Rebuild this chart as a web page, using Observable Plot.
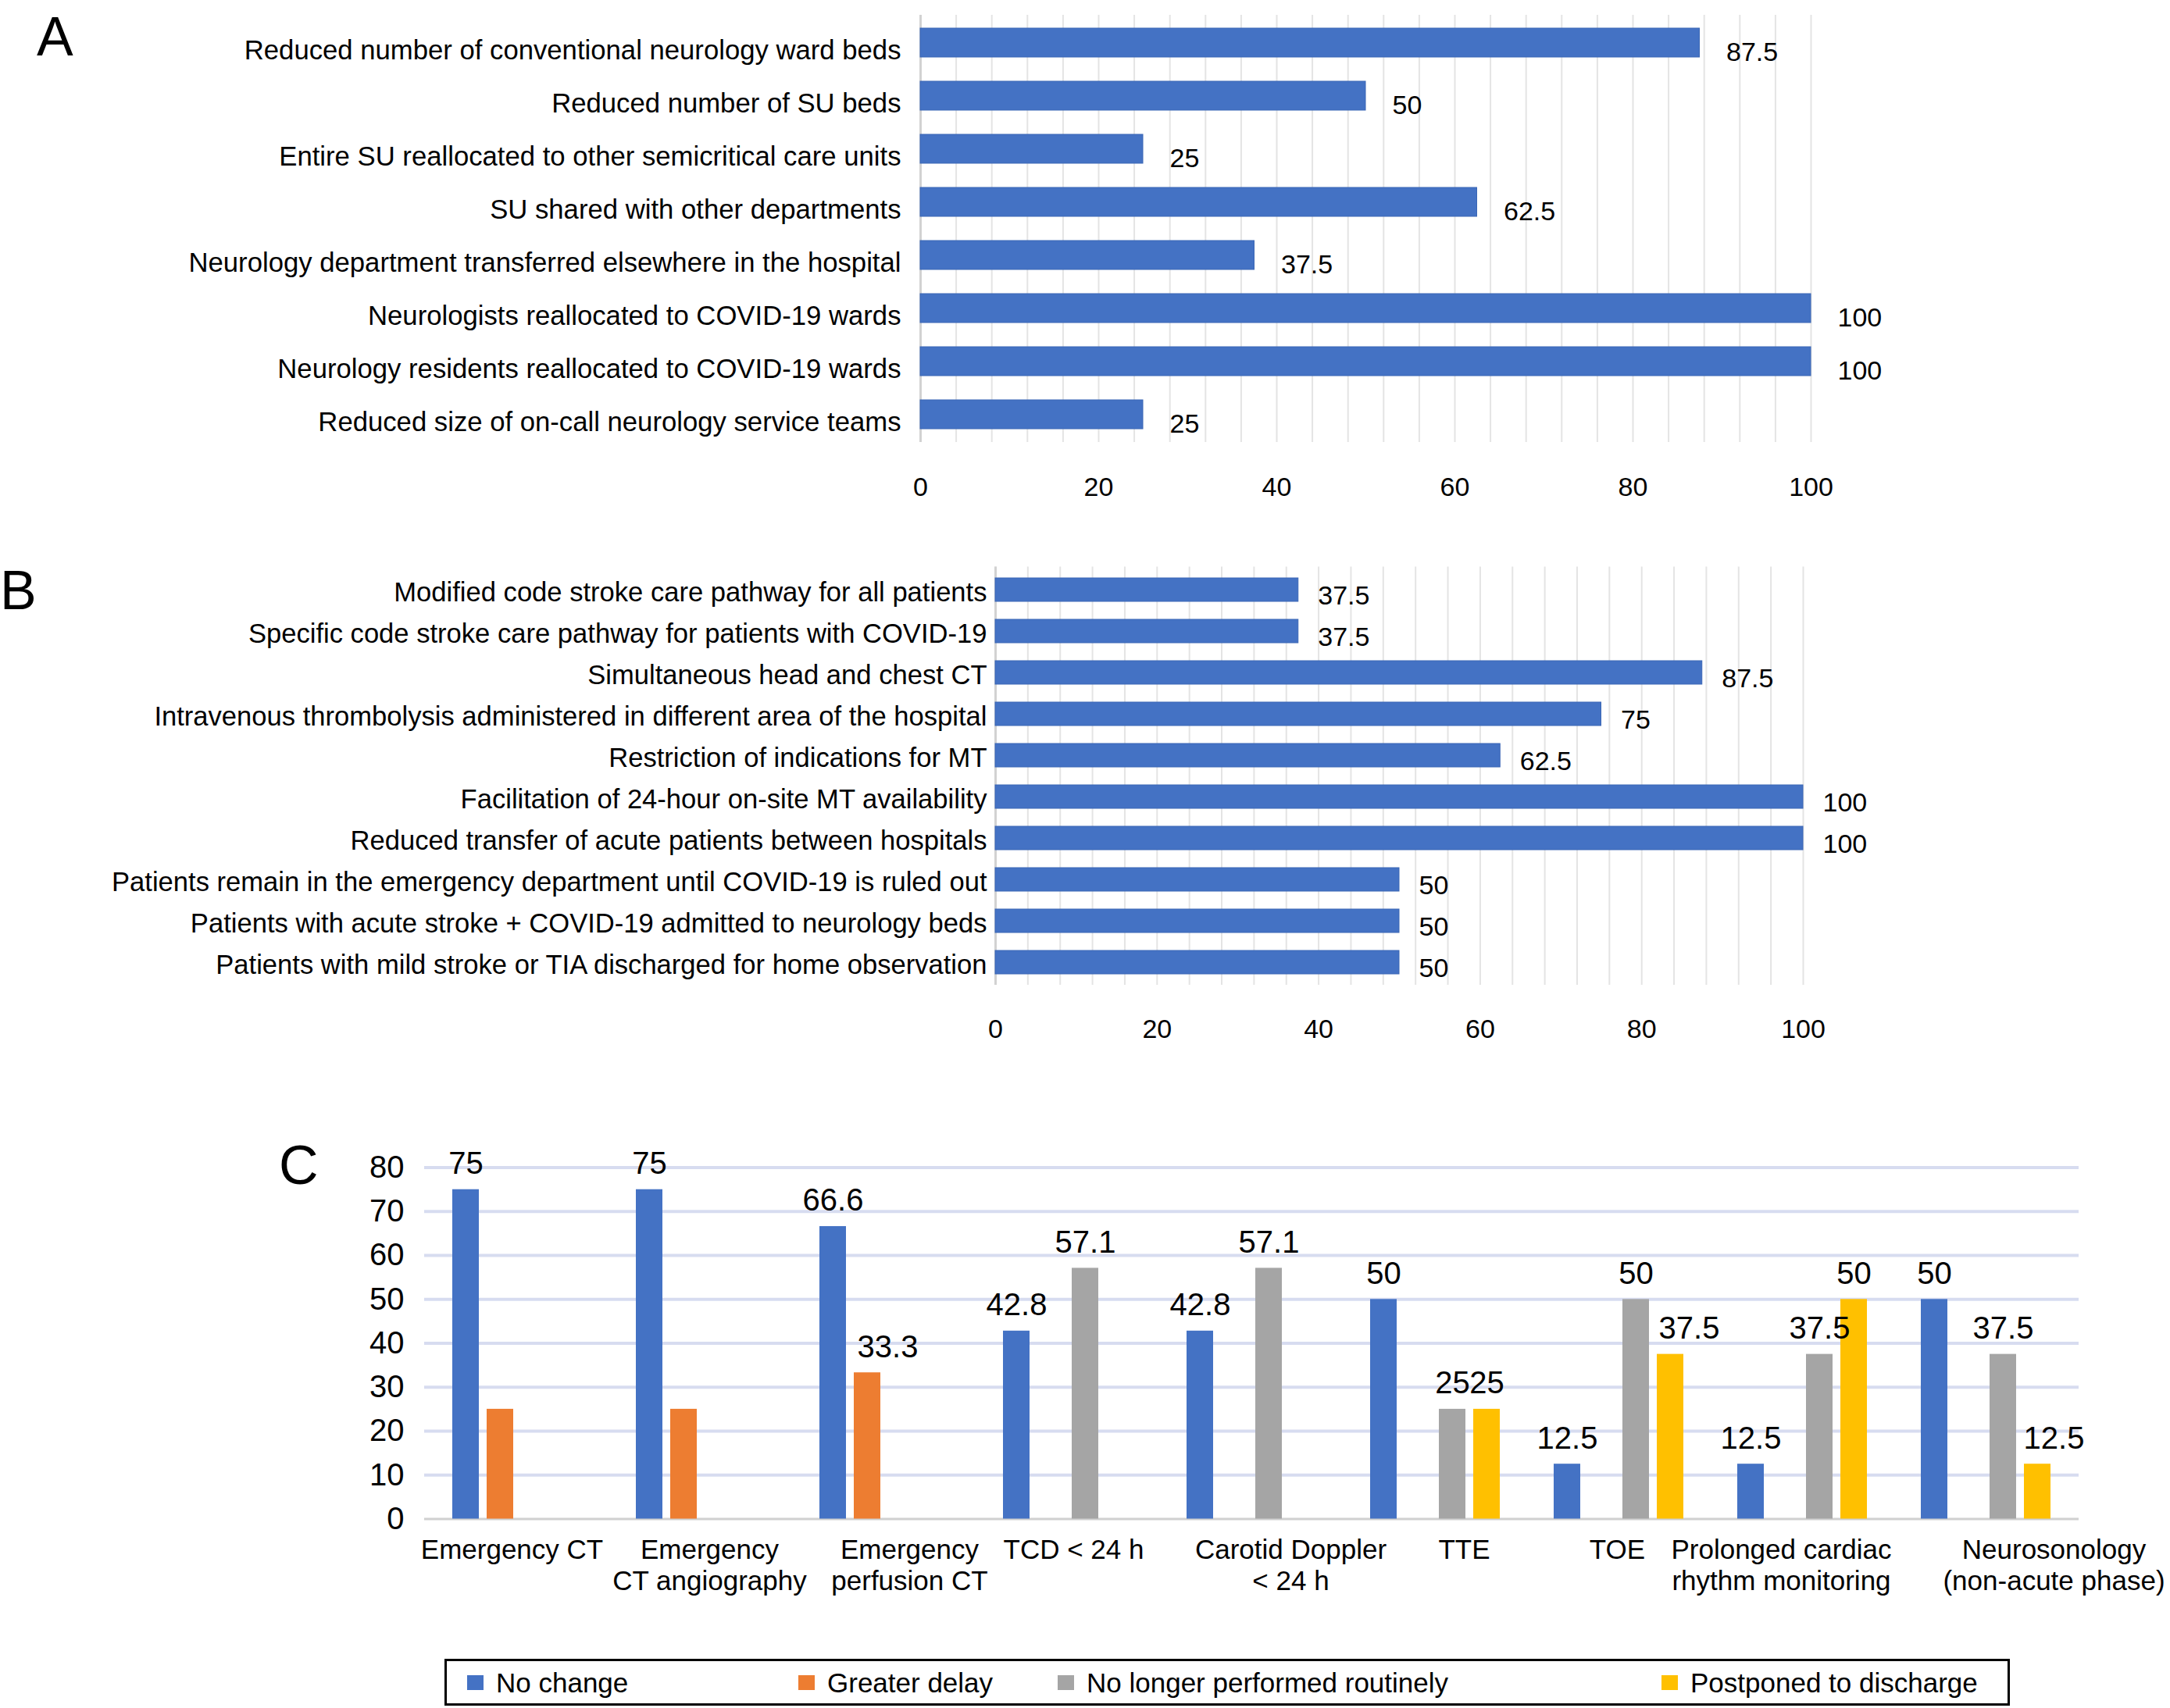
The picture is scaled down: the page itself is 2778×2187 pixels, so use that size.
<!DOCTYPE html>
<html>
<head>
<meta charset="utf-8">
<script src="https://cdn.jsdelivr.net/npm/d3@7"></script>
<script src="https://cdn.jsdelivr.net/npm/@observablehq/plot@0.6"></script>
<style>
  html, body { margin: 0; padding: 0; background: #fff; }
  body { width: 2778px; height: 2187px; position: relative; overflow: hidden; font-family: "Liberation Sans", Arial, sans-serif; }
  .layer { position: absolute; left: 0; }
  .letter { position: absolute; line-height: 1; color: #000; font-family: "Liberation Sans", Arial, sans-serif; }
  #legend { position: absolute; left: 569px; top: 2124px; width: 2004px; height: 60px; box-sizing: border-box; border: 3px solid #000; background: #fff; }
  .sw { position: absolute; width: 21px; height: 19px; top: 18px; }
  .lt { position: absolute; top: 10px; font-size: 35px; line-height: 35px; color: #000; white-space: nowrap; }
</style>
</head>
<body>
<script>
// ---------- Panel A data ----------
const aLabels = [
  "Reduced number of conventional neurology ward beds",
  "Reduced number of SU beds",
  "Entire SU reallocated to other semicritical care units",
  "SU shared with other departments",
  "Neurology department transferred elsewhere in the hospital",
  "Neurologists reallocated to COVID-19 wards",
  "Neurology residents reallocated to COVID-19 wards",
  "Reduced size of on-call neurology service teams"
];
const aValues = [87.5, 50, 25, 62.5, 37.5, 100, 100, 25];

// ---------- Panel B data ----------
const bLabels = [
  "Modified code stroke care pathway for all patients",
  "Specific code stroke care pathway for patients with COVID-19",
  "Simultaneous head and chest CT",
  "Intravenous thrombolysis administered in different area of the hospital",
  "Restriction of indications for MT",
  "Facilitation of 24-hour on-site MT availability",
  "Reduced transfer of acute patients between hospitals",
  "Patients remain in the emergency department until COVID-19 is ruled out",
  "Patients with acute stroke + COVID-19 admitted to neurology beds",
  "Patients with mild stroke or TIA discharged for home observation"
];
const bValues = [37.5, 37.5, 87.5, 75, 62.5, 100, 100, 50, 50, 50];

const abTicks = [0, 20, 40, 60, 80, 100];
const abGrid = [0, 4, 8, 12, 16, 20, 24, 28, 32, 36, 40, 44, 48, 52, 56, 60, 64, 68, 72, 76, 80, 84, 88, 92, 96, 100];

// ---------- Panel C data ----------
const cCategories = [
  "Emergency CT",
  "Emergency\nCT angiography",
  "Emergency\nperfusion CT",
  "TCD < 24 h",
  "Carotid Doppler\n< 24 h",
  "TTE",
  "TOE",
  "Prolonged cardiac\nrhythm monitoring",
  "Neurosonology\n(non-acute phase)"
];
const cSeries = ["No change", "Greater delay", "No longer performed routinely", "Postponed to discharge"];
const cColors = ["#4472C4", "#ED7D31", "#A5A5A5", "#FFC000"];
const cNoChange     = [75, 75, 66.6, 42.8, 42.8, 50, 12.5, 12.5, 50];
const cGreaterDelay = [25, 25, 33.3, null, null, null, null, null, null];
const cNoLonger     = [null, null, null, 57.1, 57.1, 25, 50, 37.5, 37.5];
const cPostponed    = [null, null, null, null, null, 25, 37.5, 50, 12.5];
// value labels that the original figure does not print
const cGreaterDelayLabelShown = [false, false, true, false, false, false, false, false, false];
const cTicks = [0, 10, 20, 30, 40, 50, 60, 70, 80];

// ---------- style constants ----------
const FONT = "Liberation Sans, Arial, sans-serif";
const BLUE = "#4472C4";
const cLabelShift = [-7, 11, 32, 7, 50, 37, -2, -27, 87]; // horizontal nudge of category labels (px)
// horizontal nudge of a few value labels (px), keyed by category index and series index
const cValueNudge = {"2-1": 26, "6-3": 24, "8-3": 21};

function place(node, top) {
  node.classList.add("layer");
  node.style.top = top + "px";
  document.body.appendChild(node);
}

// ---------- Panel A ----------
const aData = aLabels.map((label, i) => ({label, value: aValues[i]}));
const plotA = Plot.plot({
  width: 2778, height: 680,
  marginLeft: 1178, marginRight: 460, marginTop: 19, marginBottom: 114,
  style: {fontFamily: FONT, fontSize: "34.7px", background: "transparent", color: "#000", overflow: "visible"},
  x: {domain: [0, 100]},
  y: {domain: aLabels, paddingInner: 0.46, paddingOuter: 0.23},
  marks: [
    Plot.ruleX(abGrid, {stroke: "#e4e4e4", strokeWidth: 2}),
    Plot.ruleX([0], {stroke: "#d2d2d2", strokeWidth: 3}),
    Plot.barX(aData, {x: "value", y: "label", fill: BLUE, stroke: "#3a66b5", strokeWidth: 1}),
    Plot.text(aData, {x: "value", y: "label", text: d => String(d.value), textAnchor: "start", dx: 34, dy: 12, fontSize: 34, fill: "#000"}),
    Plot.axisY({tickSize: 0, tickPadding: 25, fontSize: 34.7, dy: 10, label: null}),
    Plot.axisX({ticks: abTicks, tickSize: 0, tickPadding: 44, fontSize: 34, label: null})
  ]
});
place(plotA, 0);

// ---------- Panel B ----------
const bData = bLabels.map((label, i) => ({label, value: bValues[i]}));
const plotB = Plot.plot({
  width: 2778, height: 700,
  marginLeft: 1274, marginRight: 470, marginTop: 45.5, marginBottom: 119,
  style: {fontFamily: FONT, fontSize: "34.6px", background: "transparent", color: "#000", overflow: "visible"},
  x: {domain: [0, 100]},
  y: {domain: bLabels, paddingInner: 0.44, paddingOuter: 0.22},
  marks: [
    Plot.ruleX(abGrid, {stroke: "#e4e4e4", strokeWidth: 2}),
    Plot.ruleX([0], {stroke: "#d2d2d2", strokeWidth: 3}),
    Plot.barX(bData, {x: "value", y: "label", fill: BLUE, stroke: "#3a66b5", strokeWidth: 1}),
    Plot.text(bData, {x: "value", y: "label", text: d => String(d.value), textAnchor: "start", dx: 25, dy: 8, fontSize: 34, fill: "#000"}),
    Plot.axisY({tickSize: 0, tickPadding: 11, fontSize: 34.6, dy: 3, label: null}),
    Plot.axisX({ticks: abTicks, tickSize: 0, tickPadding: 43, fontSize: 34, label: null})
  ]
});
place(plotB, 680);

// ---------- Panel C ----------
const cBySeries = [cNoChange, cGreaterDelay, cNoLonger, cPostponed];
const cRows = [];
cCategories.forEach((cat, i) => {
  cSeries.forEach((series, j) => {
    const v = cBySeries[j][i];
    if (v != null) {
      const shown = j === 1 ? cGreaterDelayLabelShown[i] : true;
      cRows.push({cat, series, value: v, shown, nudge: cValueNudge[i + "-" + j] || 0});
    }
  });
});

const cDims = {width: 2778, height: 700, marginLeft: 543, marginRight: 117, marginTop: 114.6, marginBottom: 135.5};

const plotCGrid = Plot.plot({
  ...cDims,
  style: {fontFamily: FONT, fontSize: "40px", background: "transparent", color: "#000", overflow: "visible"},
  y: {domain: [0, 80]},
  marks: [
    Plot.ruleY(cTicks.filter(t => t > 0), {stroke: "#d7dcf0", strokeWidth: 4}),
    Plot.ruleY([0], {stroke: "#d0d0d0", strokeWidth: 3}),
    Plot.axisY({ticks: cTicks, tickSize: 0, tickPadding: 26, fontSize: 40, label: null})
  ]
});
place(plotCGrid, 1380);

const nudges = Array.from(new Set(cRows.map(d => d.nudge)));
const plotC = Plot.plot({
  ...cDims,
  style: {fontFamily: FONT, fontSize: "35px", background: "transparent", color: "#000", overflow: "visible"},
  y: {domain: [0, 80], axis: null},
  fx: {domain: cCategories, paddingInner: 0.25, paddingOuter: 0.125},
  x: {domain: cSeries, padding: 0, axis: null},
  color: {domain: cSeries, range: cColors},
  marks: [
    Plot.barY(cRows, {fx: "cat", x: "series", y: "value", fill: "series", insetLeft: 5, insetRight: 5}),
    ...nudges.map(n => Plot.text(cRows.filter(d => d.shown && d.nudge === n), {fx: "cat", x: "series", y: "value", text: d => String(d.value), lineAnchor: "bottom", dy: -20, dx: n, fontSize: 40, fill: "#000"})),
    ...cCategories.map((cat, i) => Plot.axisFx({anchor: "bottom", ticks: [cat], tickSize: 0, tickPadding: 22, dx: cLabelShift[i], fontSize: 35, lineHeight: 1.15, label: null}))
  ]
});
place(plotC, 1380);

// ---------- Panel letters ----------
[["A", 47, 12, 70], ["B", 0, 721, 70], ["C", 357, 1457, 70]].forEach(([t, x, y, f]) => {
  const d = document.createElement("div");
  d.className = "letter";
  d.textContent = t;
  d.style.left = x + "px";
  d.style.top = y + "px";
  d.style.fontSize = f + "px";
  document.body.appendChild(d);
});

// ---------- Legend for panel C ----------
const legend = document.createElement("div");
legend.id = "legend";
const swatchLeft = [26, 450, 782, 1555];
cSeries.forEach((s, i) => {
  const sw = document.createElement("div");
  sw.className = "sw";
  sw.style.left = swatchLeft[i] + "px";
  sw.style.background = cColors[i];
  legend.appendChild(sw);
  const lt = document.createElement("div");
  lt.className = "lt";
  lt.style.left = (swatchLeft[i] + 37) + "px";
  lt.textContent = s;
  legend.appendChild(lt);
});
document.body.appendChild(legend);
</script>
</body>
</html>
